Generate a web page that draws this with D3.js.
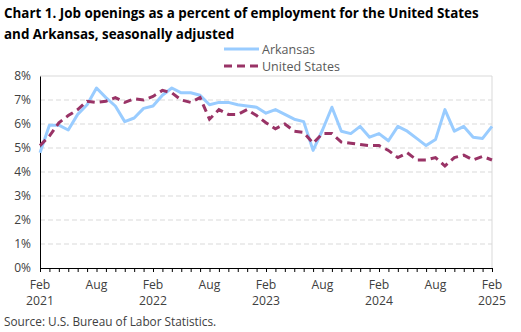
<!DOCTYPE html>
<html>
<head>
<meta charset="utf-8">
<script src="https://cdn.jsdelivr.net/npm/d3@7"></script>
<style>
  body { margin: 0; background: #fff; }
  svg text { font-family: "Open Sans", "Liberation Sans", sans-serif; }
</style>
</head>
<body>
<div id="chart"></div>
<script>
// monthly, Feb 2021 .. Feb 2025
var arkansas = [4.8, 5.95, 5.95, 5.75, 6.4, 6.8, 7.5, 7.1, 6.75, 6.1, 6.25, 6.65,
  6.75, 7.2, 7.5, 7.3, 7.3, 7.2, 6.8, 6.9, 6.9, 6.8, 6.75, 6.7,
  6.45, 6.6, 6.4, 6.2, 6.1, 4.9, 5.75, 6.7, 5.7, 5.6, 5.9, 5.45,
  5.6, 5.3, 5.9, 5.7, 5.4, 5.1, 5.35, 6.6, 5.7, 5.9, 5.45, 5.4, 5.9];
var unitedStates = [5.1, 5.5, 6.05, 6.35, 6.6, 6.95, 6.9, 6.95, 7.1, 6.9, 7.05, 7.0,
  7.15, 7.4, 7.3, 7.0, 6.9, 7.1, 6.2, 6.6, 6.4, 6.4, 6.6, 6.35,
  6.05, 5.8, 6.0, 5.7, 5.65, 5.2, 5.6, 5.6, 5.25, 5.2, 5.15, 5.1,
  5.1, 4.9, 4.6, 4.8, 4.5, 4.5, 4.6, 4.25, 4.6, 4.7, 4.5, 4.65, 4.5];
var yTicks = [0, 1, 2, 3, 4, 5, 6, 7, 8];
var xLabelMonths = [0, 6, 12, 18, 24, 30, 36, 42, 48];
var xMonthLabels = ["Feb", "Aug", "Feb", "Aug", "Feb", "Aug", "Feb", "Aug", "Feb"];
var xYearLabels = ["2021", "", "2022", "", "2023", "", "2024", "", "2025"];

var svg = d3.select("#chart").append("svg").attr("width", 521).attr("height", 332),
    margin = {left: 40, right: 29, top: 76, bottom: 64},
    width = 521 - margin.left - margin.right,
    height = 332 - margin.top - margin.bottom;

var x = d3.scaleLinear().domain([0, arkansas.length - 1]).range([margin.left, margin.left + width]);
var y = d3.scaleLinear().domain([0, 8]).range([margin.top + height, margin.top]);

// title
svg.append("text").attr("x", 4).attr("y", 18)
    .attr("font-weight", "bold").attr("font-size", "13.4px").attr("fill", "#000")
    .text("Chart 1. Job openings as a percent of employment for the United States");
svg.append("text").attr("x", 4).attr("y", 39)
    .attr("font-weight", "bold").attr("font-size", "13.4px").attr("fill", "#000")
    .text("and Arkansas, seasonally adjusted");

// gridlines
svg.append("g")
  .selectAll("line")
  .data(yTicks.filter(d => d > 0 && d < 8))
  .enter().append("line")
    .attr("x1", margin.left).attr("x2", margin.left + width)
    .attr("y1", d => y(d)).attr("y2", d => y(d))
    .attr("stroke", "#d9d9d9").attr("stroke-width", 1)
    .attr("stroke-dasharray", "5,3");

// plot border (top/right)
svg.append("path")
    .attr("d", "M" + margin.left + "," + y(8) + "H" + x(48) + "V" + y(0))
    .attr("fill", "none").attr("stroke", "#d9d9d9").attr("stroke-width", 1);

// y axis
var yAxis = svg.append("g")
    .attr("transform", "translate(" + margin.left + ",0)")
    .call(d3.axisLeft(y).tickValues(yTicks).tickSize(0).tickPadding(9).tickFormat(d => d + "%"));
yAxis.select(".domain").attr("stroke", "#000");
yAxis.selectAll("text").attr("font-size", "12px").attr("fill", "#404040");

// x axis, monthly ticks
var xAxis = svg.append("g")
    .attr("transform", "translate(0," + y(0) + ")")
    .call(d3.axisBottom(x).tickValues(d3.range(0, 49)).tickSize(4).tickFormat(""));
xAxis.select(".domain").attr("stroke", "#000");
xAxis.selectAll(".tick line").attr("stroke", "#000");

var xl = svg.append("g");
xl.selectAll("text.mon").data(xLabelMonths).enter().append("text")
    .attr("class", "mon")
    .attr("x", d => x(d)).attr("y", y(0) + 21)
    .attr("text-anchor", "middle")
    .attr("font-size", "12.2px").attr("fill", "#404040")
    .text((d, i) => xMonthLabels[i]);
xl.selectAll("text.yr").data(xLabelMonths.filter((d, i) => xYearLabels[i] !== "")).enter().append("text")
    .attr("class", "yr")
    .attr("x", d => x(d)).attr("y", y(0) + 37)
    .attr("text-anchor", "middle")
    .attr("font-size", "12.2px").attr("fill", "#404040")
    .text(d => xYearLabels[xLabelMonths.indexOf(d)]);

// lines
var line = d3.line().x((d, i) => x(i)).y(d => y(d));

svg.append("path").datum(arkansas)
    .attr("d", line).attr("fill", "none")
    .attr("stroke", "#99ccff").attr("stroke-width", 3)
    .attr("stroke-linejoin", "round");

svg.append("path").datum(unitedStates)
    .attr("d", line).attr("fill", "none")
    .attr("stroke", "#993366").attr("stroke-width", 3)
    .attr("stroke-dasharray", "8,5");

// legend
var legend = [
  {name: "Arkansas", color: "#99ccff", dash: null},
  {name: "United States", color: "#993366", dash: "8,5"}
];
var lg = svg.append("g").selectAll("g").data(legend).enter().append("g")
    .attr("transform", (d, i) => "translate(224," + (49 + i * 17) + ")");
lg.append("line").attr("x1", 0).attr("x2", 35).attr("y1", 0).attr("y2", 0)
    .attr("stroke", d => d.color).attr("stroke-width", 3)
    .attr("stroke-dasharray", d => d.dash);
lg.append("text").attr("x", 38).attr("y", 5)
    .attr("font-size", "12.5px").attr("fill", "#595959")
    .text(d => d.name);

// source
svg.append("text").attr("x", 4).attr("y", 326)
    .attr("font-size", "11.8px").attr("fill", "#404040")
    .text("Source: U.S. Bureau of Labor Statistics.");
</script>
</body>
</html>
